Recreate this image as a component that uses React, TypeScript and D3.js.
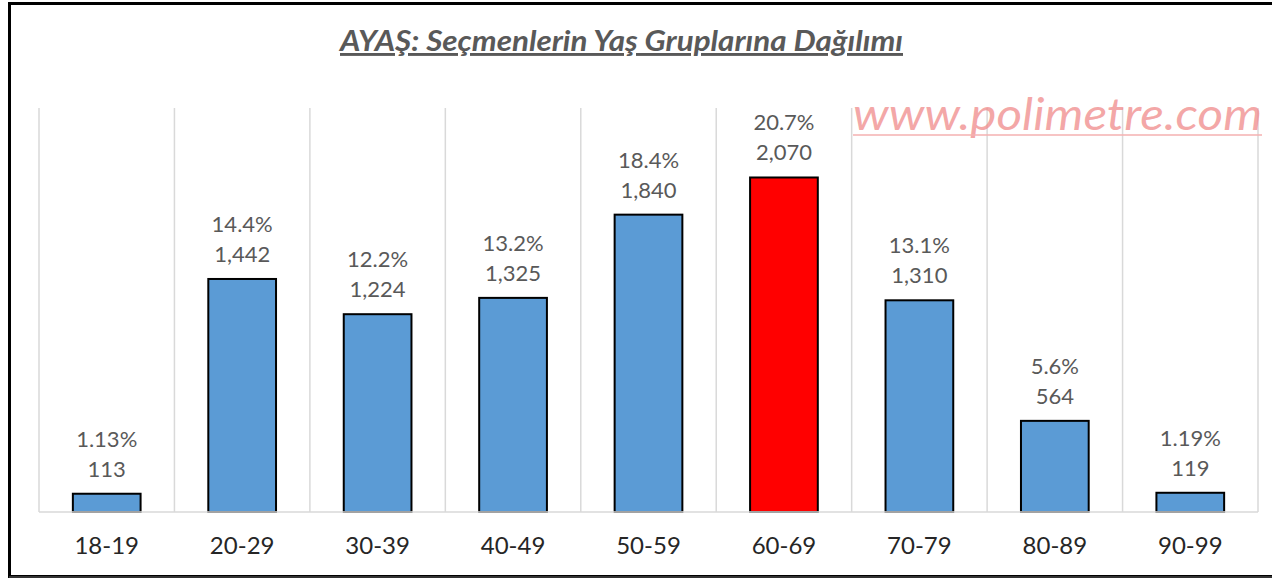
import * as d3 from "d3";
import { useEffect, useRef } from "react";

const categories = ["18-19", "20-29", "30-39", "40-49", "50-59", "60-69", "70-79", "80-89", "90-99"];
const voters = [113, 1442, 1224, 1325, 1840, 2070, 1310, 564, 119];
const shares = ["1.13%", "14.4%", "12.2%", "13.2%", "18.4%", "20.7%", "13.1%", "5.6%", "1.19%"];
const highlight = "60-69";

const svgWidth = 1272,
  svgHeight = 579;
const plot = { left: 39, right: 1258, top: 108, bottom: 512 };

export default function App() {
  const containerRef = useRef<SVGGElement>(null);

  useEffect(() => {
    const g = d3.select(containerRef.current);
    g.selectAll("*").remove();

    const x = d3.scaleBand().domain(categories).range([plot.left, plot.right]).padding(0);
    const y = d3.scaleLinear().domain([0, 2500]).range([plot.bottom, plot.top]);
    const barW = x.bandwidth() / 2;

    // frame
    g.append("rect")
      .attr("x", 9.5)
      .attr("y", 3.5)
      .attr("width", 1300)
      .attr("height", 573)
      .attr("fill", "white")
      .attr("stroke", "black")
      .attr("stroke-width", 3);
    g.append("line")
      .attr("x1", 9)
      .attr("x2", 1272)
      .attr("y1", 577)
      .attr("y2", 577)
      .attr("stroke", "#333")
      .attr("stroke-width", 2);

    // title
    g.append("text")
      .attr("x", 340)
      .attr("y", 51)
      .attr("font-family", "Lato")
      .attr("font-weight", "bold")
      .attr("font-style", "italic")
      .attr("font-size", 29)
      .attr("fill", "#595959")
      .attr("text-decoration", "underline")
      .attr("textLength", 563)
      .attr("lengthAdjust", "spacingAndGlyphs")
      .text("AYAŞ: Seçmenlerin Yaş Gruplarına Dağılımı");

    // vertical gridlines at band edges
    const edges = categories.map((c) => x(c)).concat([plot.right]);
    g.append("g")
      .selectAll("line")
      .data(edges)
      .join("line")
      .attr("x1", (d) => d)
      .attr("x2", (d) => d)
      .attr("y1", plot.top)
      .attr("y2", plot.bottom)
      .attr("stroke", "#d9d9d9")
      .attr("stroke-width", 1.5);

    // watermark
    g.append("text")
      .attr("x", 853)
      .attr("y", 130)
      .attr("font-family", "Lato")
      .attr("font-style", "italic")
      .attr("font-size", 45)
      .attr("fill", "#f08a8a")
      .attr("fill-opacity", 0.75)
      .attr("textLength", 409)
      .attr("lengthAdjust", "spacingAndGlyphs")
      .text("www.polimetre.com");
    g.append("line")
      .attr("x1", 853)
      .attr("x2", 1262)
      .attr("y1", 135)
      .attr("y2", 135)
      .attr("stroke", "#f4b0b0")
      .attr("stroke-width", 1.5);

    // bars
    g.append("g")
      .selectAll("rect")
      .data(categories)
      .join("rect")
      .attr("x", (d) => x(d) + x.bandwidth() / 4)
      .attr("y", (d, i) => y(voters[i]))
      .attr("width", barW)
      .attr("height", (d, i) => plot.bottom - y(voters[i]))
      .attr("fill", (d) => (d === highlight ? "#ff0000" : "#5b9bd5"))
      .attr("stroke", "black")
      .attr("stroke-width", 2);

    // baseline
    g.append("line")
      .attr("x1", plot.left)
      .attr("x2", plot.right)
      .attr("y1", plot.bottom)
      .attr("y2", plot.bottom)
      .attr("stroke", "#d9d9d9")
      .attr("stroke-width", 1.5);

    // labels
    const labels = g
      .append("g")
      .attr("font-family", "Lato")
      .attr("font-size", 22)
      .attr("fill", "#595959")
      .attr("text-anchor", "middle");
    labels
      .selectAll("text.val")
      .data(categories)
      .join("text")
      .attr("class", "val")
      .attr("x", (d) => x(d) + x.bandwidth() / 2)
      .attr("y", (d, i) => y(voters[i]) - 17)
      .text((d, i) => d3.format(",")(voters[i]));
    labels
      .selectAll("text.pct")
      .data(categories)
      .join("text")
      .attr("class", "pct")
      .attr("x", (d) => x(d) + x.bandwidth() / 2)
      .attr("y", (d, i) => y(voters[i]) - 47)
      .text((d, i) => shares[i]);

    // x axis
    const xAxis = g
      .append("g")
      .attr("transform", `translate(0, ${plot.bottom})`)
      .call(d3.axisBottom(x).tickSize(0).tickPadding(25));
    xAxis.select(".domain").remove();
    xAxis.selectAll("text").attr("font-family", "Lato").attr("font-size", 24).attr("fill", "#262626");
  }, []);

  return (
    <svg width={svgWidth} height={svgHeight} style={{ position: "absolute", left: 0, top: 0, background: "white" }}>
      <g ref={containerRef}></g>
    </svg>
  );
}
